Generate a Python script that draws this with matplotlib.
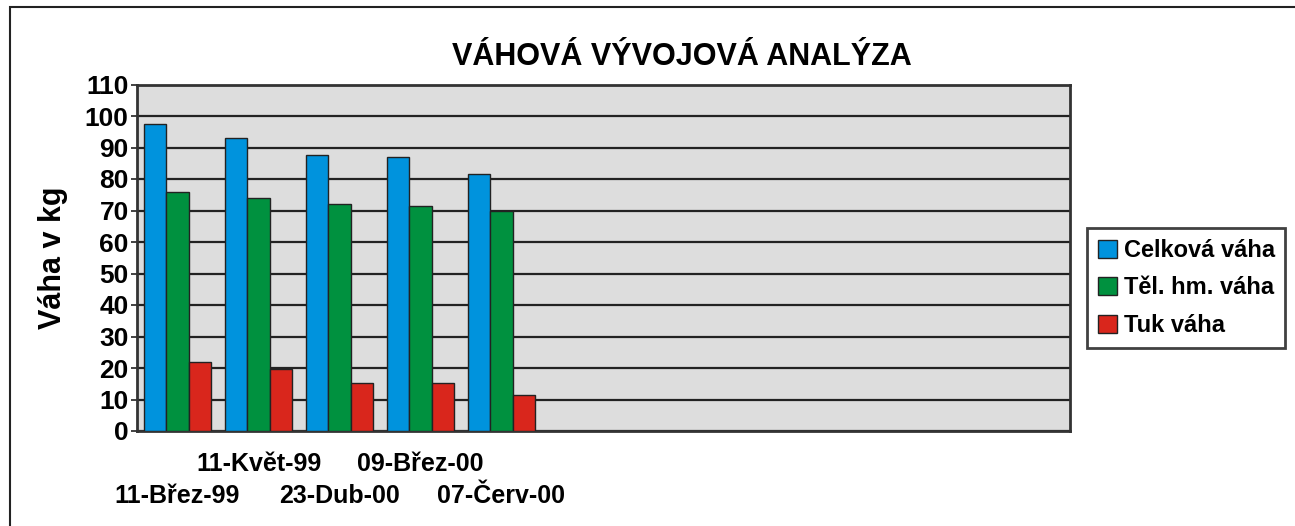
import matplotlib
matplotlib.use("Agg")
import matplotlib.pyplot as plt
import numpy as np
from matplotlib.patches import Rectangle

plt.rcParams["font.family"] = ["Liberation Sans", "DejaVu Sans"]
plt.rcParams["font.weight"] = "bold"

dates = ["11-Břez-99", "11-Květ-99", "23-Dub-00", "09-Břez-00", "07-Červ-00"]
celkova = [97.5, 93.0, 87.5, 87.0, 81.7]
telesna = [75.9, 74.0, 72.0, 71.5, 70.0]
tuk = [22.0, 19.7, 15.2, 15.2, 11.4]

series_names = ["Celková váha", "Těl. hm. váha", "Tuk váha"]
colors = ["#0093dd", "#00913f", "#d9261c"]
y_ticks = list(range(0, 111, 10))

fig = plt.figure(figsize=(12.95, 5.26), dpi=100)
ax = fig.add_axes([137 / 1295, 95 / 526, 933 / 1295, 346.5 / 526])
ax.set_facecolor("#dddddd")

x = np.arange(len(dates))
w = 0.274
for k, (vals, name, col) in enumerate(zip([celkova, telesna, tuk], series_names, colors)):
    ax.bar(x + (k - 1) * w, vals, width=w, color=col, edgecolor="#222222",
           linewidth=1.0, label=name, zorder=3)

ax.set_xlim(-0.5, -0.5 + 933 / 81)
ax.set_ylim(0, 110)
ax.set_yticks(y_ticks)
ax.set_yticklabels([str(v) for v in y_ticks], fontsize=19, fontweight="bold")
ax.yaxis.grid(True, color="#222222", linewidth=1.6, zorder=1)
ax.tick_params(axis="y", length=4, width=1.2, color="#222222", pad=2)

# staggered date labels: first, third, fifth sit on the lower row
ax.set_xticks(x)
ax.set_xticklabels(dates, fontsize=18, fontweight="bold")
ax.tick_params(axis="x", length=0)
for i, tick in enumerate(ax.xaxis.get_major_ticks()):
    tick.set_pad(38 if i % 2 == 0 else 15)

for s in ax.spines.values():
    s.set_color("#333333")
    s.set_linewidth(2)

ax.set_ylabel("Váha v kg", fontsize=22, fontweight="bold", labelpad=12)

fig.text(682 / 1295, 1 - 57 / 526, "VÁHOVÁ VÝVOJOVÁ ANALÝZA", ha="center", va="center",
         fontsize=22, fontweight="bold")

leg = ax.legend(loc="center left", bbox_to_anchor=(1087 / 1295, 1 - 288 / 526),
                bbox_transform=fig.transFigure, fontsize=17, frameon=True, fancybox=False,
                handlelength=0.8, handleheight=0.8, handletextpad=0.3,
                labelspacing=0.62, borderpad=0.45, borderaxespad=0)
leg.get_frame().set_edgecolor("#111111")
leg.get_frame().set_linewidth(2)
for t in leg.get_texts():
    t.set_fontweight("bold")

fig.add_artist(Rectangle((10 / 1295, -0.1), 1.2, 1.1 - 7 / 526, transform=fig.transFigure,
                         fill=False, edgecolor="#222222", linewidth=1.5))

fig.savefig("out.png", dpi=100)
